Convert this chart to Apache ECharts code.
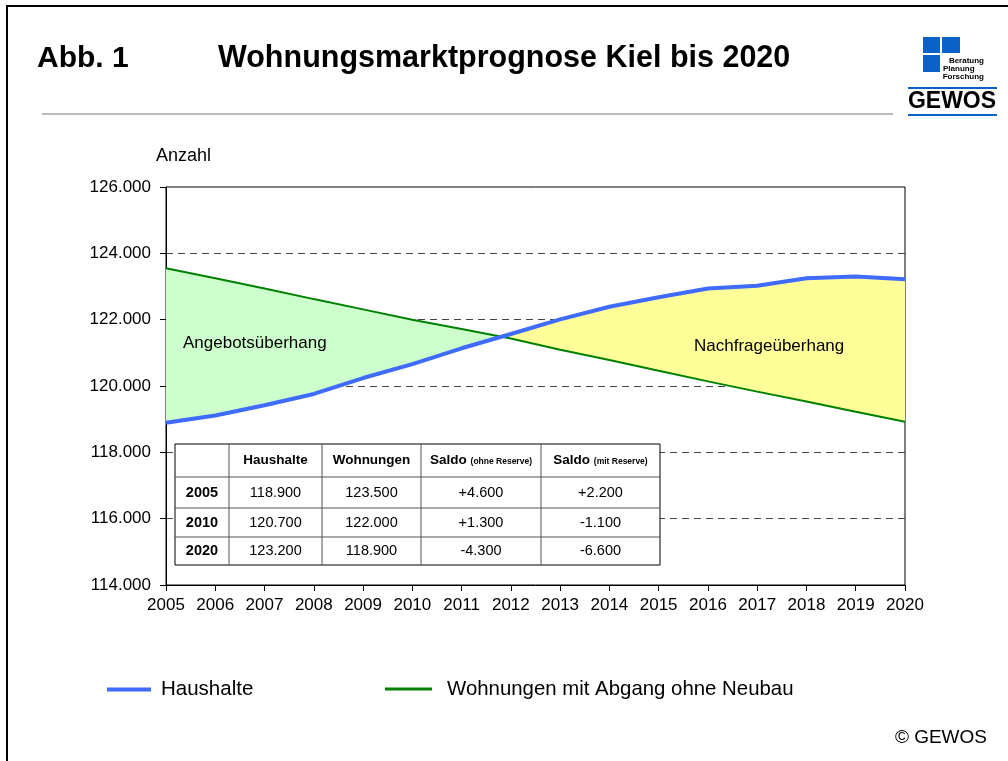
<!DOCTYPE html>
<html><head><meta charset="utf-8">
<script src="https://cdn.jsdelivr.net/npm/echarts@6/dist/echarts.min.js"></script>
<style>html,body{margin:0;padding:0;background:#fff}#c{width:1008px;height:761px}</style>
</head><body><div id="c"></div>
<script>
const years = [2005,2006,2007,2008,2009,2010,2011,2012,2013,2014,2015,2016,2017,2018,2019,2020];
const haushalte = [118894,119110,119420,119760,120240,120660,121137,121568,122010,122390,122675,122940,123020,123250,123300,123220];
const wohnungen = [123550,123250,122940,122620,122310,122000,121720,121430,121090,120785,120460,120140,119830,119530,119225,118925];
const yTicks = [114000,116000,118000,120000,122000,124000,126000];

const tableYears = ['2005','2010','2020'];
const tableHaushalte = [118900,120700,123200];
const tableWohnungen = [123500,122000,118900];
const tableSaldoOhne = [4600,1300,-4300];
const tableSaldoMit = [2200,-1100,-6600];

const FONT = '"Liberation Sans", Arial, sans-serif';
function fmt(v){ const s = Math.abs(v).toString().replace(/\B(?=(\d{3})+(?!\d))/g,'.'); return v<0?'-'+s:s; }
function fmtSigned(v){ return (v>0?'+':'') + fmt(v); }

// area between curves
function buildAreas(api){
  let cx = null, cy = null, ci = -1;
  for (let i=0;i<years.length-1;i++){
    const d0 = wohnungen[i]-haushalte[i], d1 = wohnungen[i+1]-haushalte[i+1];
    if (d0>=0 && d1<0){ const t = d0/(d0-d1); cx = years[i]+t*(years[i+1]-years[i]); cy = haushalte[i]+t*(haushalte[i+1]-haushalte[i]); ci=i; break; }
  }
  const up=[], down=[];
  for (let i=0;i<=ci;i++){ up.push(api.coord([years[i],wohnungen[i]])); down.push(api.coord([years[i],haushalte[i]])); }
  const cross = api.coord([cx,cy]);
  const g = up.concat([cross]).concat(down.reverse());
  const up2=[cross], down2=[];
  for (let i=ci+1;i<years.length;i++){ up2.push(api.coord([years[i],haushalte[i]])); down2.push(api.coord([years[i],wohnungen[i]])); }
  const y = up2.concat(down2.reverse());
  return {type:'group', children:[
    {type:'polygon', shape:{points:g}, style:{fill:'#CCFFCC'}},
    {type:'polygon', shape:{points:y}, style:{fill:'#FFFF99'}}
  ]};
}

// table graphic
const colX = [175,229,322,421,541,660];
const rowY = [444,477,508,537,565];
function tableGraphic(){
  const els = [];
  els.push({type:'rect', shape:{x:colX[0],y:rowY[0],width:colX[5]-colX[0],height:rowY[4]-rowY[0]}, style:{fill:'#fff',stroke:'#000',lineWidth:1}, z:100});
  for (let i=1;i<5;i++) els.push({type:'line', shape:{x1:colX[i],y1:rowY[0],x2:colX[i],y2:rowY[4]}, style:{stroke:'#555',lineWidth:1}, z:101});
  for (let j=1;j<4;j++) els.push({type:'line', shape:{x1:colX[0],y1:rowY[j],x2:colX[5],y2:rowY[j]}, style:{stroke:'#555',lineWidth:1}, z:101});
  function cell(c,r,text,bold,size,rich){
    els.push({type:'text', z:102, style:{text:text, x:(colX[c]+colX[c+1])/2, y:(rowY[r]+rowY[r+1])/2, align:'center', verticalAlign:'middle', font:(bold?'bold ':'')+size+'px '+FONT, fill:'#000', rich:rich}});
  }
  cell(1,0,'Haushalte',true,13.5);
  cell(2,0,'Wohnungen',true,13.5);
  const rich = {a:{fontWeight:'bold',fontSize:13.5,fontFamily:FONT},b:{fontWeight:'bold',fontSize:8.5,fontFamily:FONT,padding:[3,0,0,0]}};
  cell(3,0,'{a|Saldo} {b|(ohne Reserve)}',true,13.5,rich);
  cell(4,0,'{a|Saldo} {b|(mit Reserve)}',true,13.5,rich);
  for (let r=0;r<3;r++){
    cell(0,r+1,tableYears[r],true,14.5);
    cell(1,r+1,fmt(tableHaushalte[r]),false,14.5);
    cell(2,r+1,fmt(tableWohnungen[r]),false,14.5);
    cell(3,r+1,fmtSigned(tableSaldoOhne[r]),false,14.5);
    cell(4,r+1,fmtSigned(tableSaldoMit[r]),false,14.5);
  }
  return els;
}

const chart = echarts.init(document.getElementById('c'));
chart.setOption({
  animation:false,
  backgroundColor:'#fff',
  textStyle:{fontFamily:FONT},
  grid:{left:166,right:103,top:187,bottom:176,show:true,borderColor:'#000',borderWidth:1,backgroundColor:'transparent'},
  xAxis:{type:'value',min:2005,max:2020,interval:1,
    axisLine:{lineStyle:{color:'#000',width:1}},
    axisTick:{show:true,length:6,lineStyle:{color:'#000'}},
    axisLabel:{color:'#000',fontSize:17,margin:12,formatter:v=>String(v)},
    splitLine:{show:false}},
  yAxis:[{type:'value',min:yTicks[0],max:yTicks[yTicks.length-1],interval:2000,
    axisLine:{show:true,lineStyle:{color:'#000',width:1}},
    axisTick:{show:true,length:6,lineStyle:{color:'#000'}},
    axisLabel:{color:'#000',fontSize:17,margin:15,formatter:v=>fmt(v)},
    splitLine:{show:true,showMaxLine:false,showMinLine:false,lineStyle:{color:'#444',type:[7,5],width:1}}}],
  legend:[
    {data:['Haushalte'],left:107,top:679,padding:0,icon:'rect',itemWidth:44,itemHeight:4,itemGap:0,textStyle:{fontSize:20.5,color:'#000',padding:[0,0,0,5]}},
    {data:['Wohnungen mit Abgang ohne Neubau'],left:385,top:679,padding:0,icon:'rect',itemWidth:47,itemHeight:3,textStyle:{fontSize:20.4,color:'#000',padding:[0,0,0,10]}}
  ],
  series:[
    {type:'custom',name:'areas',renderItem:(params,api)=>buildAreas(api),data:[[2005,120000]],z:1,silent:true},
    {type:'line',name:'Haushalte',data:years.map((y,i)=>[y,haushalte[i]]),showSymbol:false,lineStyle:{color:'#3F6BFF',width:4},itemStyle:{color:'#3F6BFF'},z:4},
    {type:'line',name:'Wohnungen mit Abgang ohne Neubau',data:years.map((y,i)=>[y,wohnungen[i]]),showSymbol:false,lineStyle:{color:'#008000',width:2},itemStyle:{color:'#008000'},z:3}
  ],
  graphic:[
    {type:'rect',shape:{x:7,y:6,width:1100,height:900},style:{fill:'none',stroke:'#000',lineWidth:2},silent:true},
    {type:'text',style:{text:'Abb. 1',x:37,y:59,verticalAlign:'middle',font:'bold 30px '+FONT,fill:'#000'}},
    {type:'text',style:{text:'Wohnungsmarktprognose Kiel bis 2020',x:218,y:59,verticalAlign:'middle',font:'bold 30.5px '+FONT,fill:'#000'}},
    {type:'line',shape:{x1:42,y1:114,x2:893,y2:114},style:{stroke:'#777',lineWidth:1}},
    {type:'rect',shape:{x:923,y:37,width:17,height:16},style:{fill:'#0A62C9'}},
    {type:'rect',shape:{x:942,y:37,width:18,height:16},style:{fill:'#0A62C9'}},
    {type:'rect',shape:{x:923,y:55,width:17,height:17},style:{fill:'#0A62C9'}},
    {type:'text',style:{text:'Beratung',x:984,y:61,align:'right',verticalAlign:'middle',font:'bold 8px '+FONT,fill:'#000'}},
    {type:'text',style:{text:'Planung',x:943,y:69,verticalAlign:'middle',font:'bold 8px '+FONT,fill:'#000'}},
    {type:'text',style:{text:'Forschung',x:984,y:77,align:'right',verticalAlign:'middle',font:'bold 8px '+FONT,fill:'#000'}},
    {type:'rect',shape:{x:908,y:87,width:89,height:2},style:{fill:'#0A62C9'}},
    {type:'text',style:{text:'GEWOS',x:952,y:102,align:'center',verticalAlign:'middle',font:'bold 23px '+FONT,fill:'#000'}},
    {type:'rect',shape:{x:908,y:114,width:89,height:2},style:{fill:'#0A62C9'}},
    {type:'text',style:{text:'Anzahl',x:156,y:156,verticalAlign:'middle',font:'18px '+FONT,fill:'#000'}},
    {type:'text',style:{text:'Angebotsüberhang',x:183,y:343,verticalAlign:'middle',font:'17px '+FONT,fill:'#000'},z:50},
    {type:'text',style:{text:'Nachfrageüberhang',x:694,y:346,verticalAlign:'middle',font:'17px '+FONT,fill:'#000'},z:50},
    {type:'text',style:{text:'© GEWOS',x:987,y:738,align:'right',verticalAlign:'middle',font:'19px '+FONT,fill:'#000'}}
  ].concat(tableGraphic())
});
</script></body></html>
